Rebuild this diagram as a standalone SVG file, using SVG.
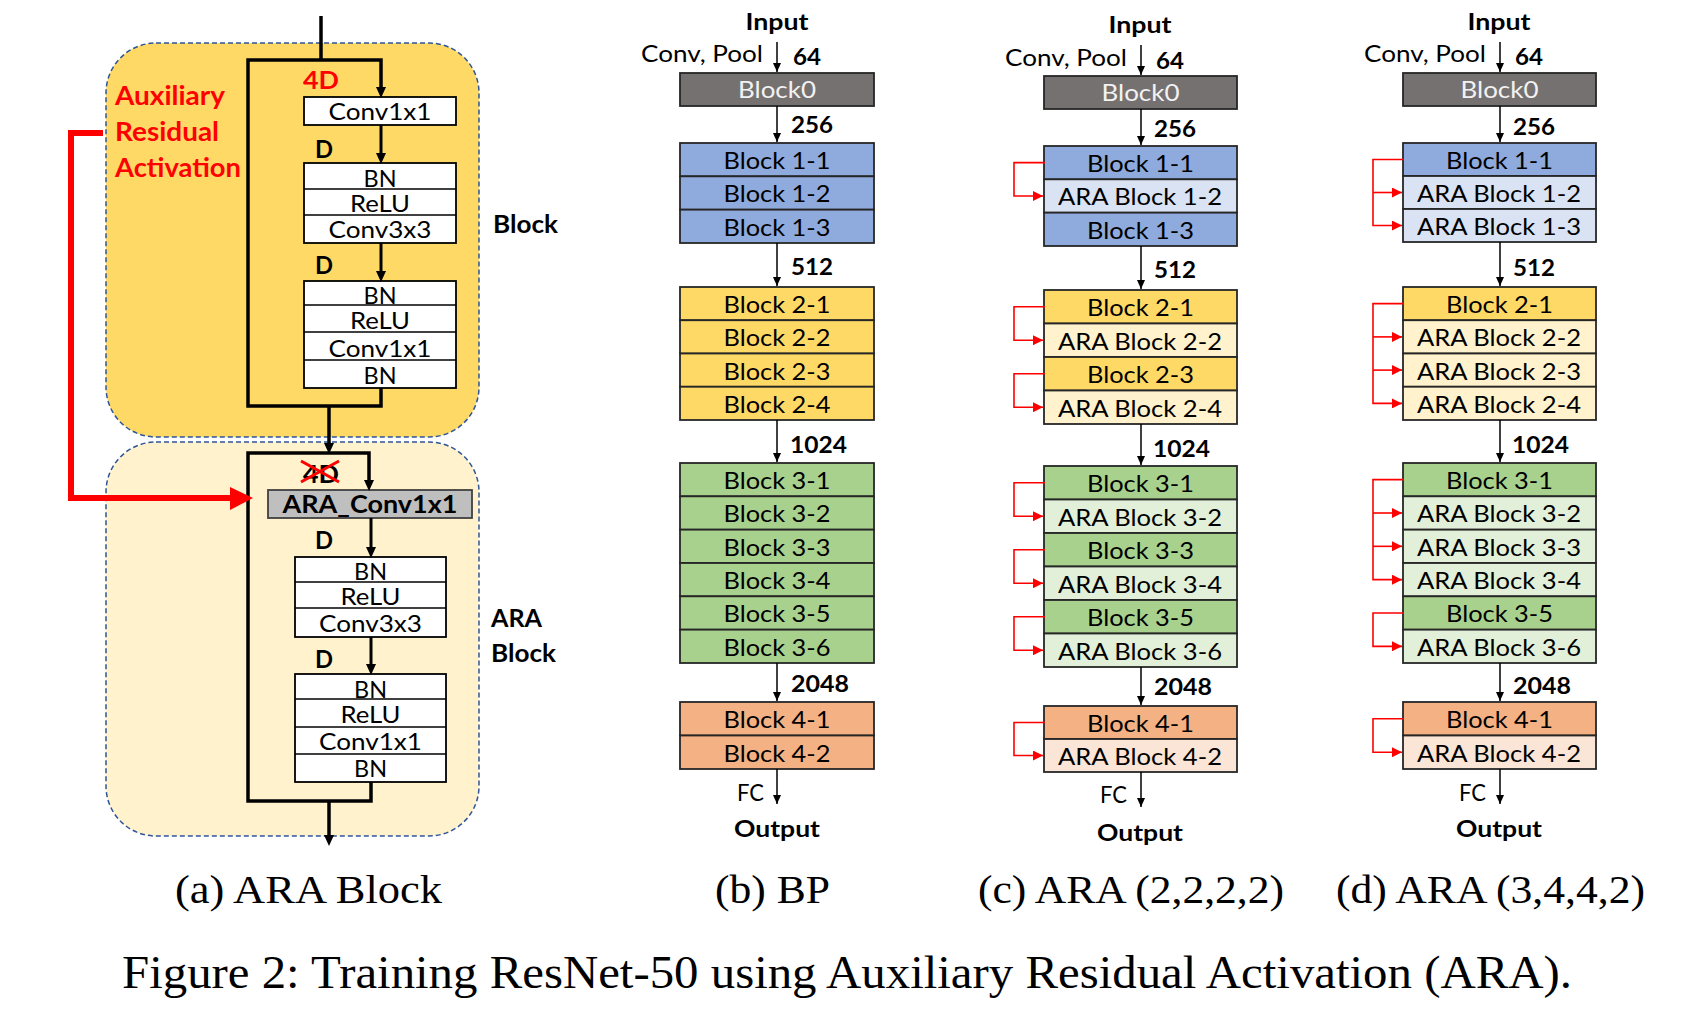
<svg xmlns="http://www.w3.org/2000/svg" width="1690" height="1014" viewBox="0 0 1690 1014">
<style>
.t{font-family:Lato,"Liberation Sans",sans-serif;fill:#000}
.b{font-weight:bold}
.m{text-anchor:middle}
.e{text-anchor:end}
.cap{font-family:"Liberation Serif","Times New Roman",serif;fill:#000}
.box{fill:#fff;stroke:#000;stroke-width:1.8}
.row{stroke:#262626;stroke-width:1.8}
.b0{fill:#767171}
.c1{fill:#8FAADC}.c1l{fill:#DAE3F3}
.c2{fill:#FFD966}.c2l{fill:#FFF2CC}
.c3{fill:#A9D18E}.c3l{fill:#E2F0D9}
.c4{fill:#F4B183}.c4l{fill:#FBE5D6}
.thick{fill:none;stroke:#000;stroke-width:3.5}
.arr{fill:none;stroke:#000;stroke-width:3}
.thin{fill:none;stroke:#000;stroke-width:1.5}
.red{fill:none;stroke:#FF0000;stroke-width:1.6}
.rl{font-size:24px}
.pl{font-size:24px}
.num{font-size:23px;font-weight:bold}
.io{font-size:23px;font-weight:bold}
.sm{font-size:23px}
</style>
<defs>
<marker id="ah" markerUnits="userSpaceOnUse" markerWidth="9" markerHeight="8" refX="9" refY="4" orient="auto"><path d="M0,0 L9,4 L0,8 z" fill="#000"/></marker>
<marker id="ahk" markerUnits="userSpaceOnUse" markerWidth="11" markerHeight="10" refX="4" refY="5" orient="auto"><path d="M0,0 L11,5 L0,10 z" fill="#000"/></marker>
<marker id="ahr" markerUnits="userSpaceOnUse" markerWidth="10" markerHeight="10" refX="10" refY="5" orient="auto"><path d="M0,0 L10,5 L0,10 z" fill="#FF0000"/></marker>
</defs>
<rect width="1690" height="1014" fill="#fff"/>

<!-- Panel (a) -->
<g id="blockBg"><rect x="106" y="43" width="373" height="394" rx="50" fill="#FFD966" stroke="#2F5597" stroke-width="1.5" stroke-dasharray="5,3"/></g>
<g id="araBg"><rect x="106" y="442" width="373" height="394" rx="50" fill="#FFF2CC" stroke="#2F5597" stroke-width="1.5" stroke-dasharray="5,3"/></g>

<g id="a-conv1">
<rect class="box" x="304" y="97" width="152" height="28"/>
<text class="t pl m" x="380" y="120" textLength="103" lengthAdjust="spacingAndGlyphs">Conv1x1</text>
</g>
<g id="a-bnrelu1">
<rect class="box" x="304" y="163" width="152" height="80"/>
<line x1="304" y1="189" x2="456" y2="189" stroke="#000" stroke-width="1.5"/>
<line x1="304" y1="215" x2="456" y2="215" stroke="#000" stroke-width="1.5"/>
<text class="t pl m" x="380" y="187" textLength="33" lengthAdjust="spacingAndGlyphs">BN</text>
<text class="t pl m" x="380" y="212" textLength="60" lengthAdjust="spacingAndGlyphs">ReLU</text>
<text class="t pl m" x="380" y="238" textLength="103" lengthAdjust="spacingAndGlyphs">Conv3x3</text>
</g>
<g id="a-bnrelu2">
<rect class="box" x="304" y="281" width="152" height="107"/>
<line x1="304" y1="305" x2="456" y2="305" stroke="#000" stroke-width="1.5"/>
<line x1="304" y1="332" x2="456" y2="332" stroke="#000" stroke-width="1.5"/>
<line x1="304" y1="360" x2="456" y2="360" stroke="#000" stroke-width="1.5"/>
<text class="t pl m" x="380" y="304" textLength="33" lengthAdjust="spacingAndGlyphs">BN</text>
<text class="t pl m" x="380" y="329" textLength="60" lengthAdjust="spacingAndGlyphs">ReLU</text>
<text class="t pl m" x="380" y="357" textLength="103" lengthAdjust="spacingAndGlyphs">Conv1x1</text>
<text class="t pl m" x="380" y="384" textLength="33" lengthAdjust="spacingAndGlyphs">BN</text>
</g>

<g id="a-araconv">
<rect x="268" y="490" width="204" height="28" fill="#BFBFBF" stroke="#404040" stroke-width="1.8"/>
<text class="t b m" x="370" y="513" font-size="24" textLength="175" lengthAdjust="spacingAndGlyphs">ARA_Conv1x1</text>
</g>
<g id="a-bnrelu3">
<rect class="box" x="295" y="557" width="151" height="80"/>
<line x1="295" y1="582" x2="446" y2="582" stroke="#000" stroke-width="1.5"/>
<line x1="295" y1="608" x2="446" y2="608" stroke="#000" stroke-width="1.5"/>
<text class="t pl m" x="370.5" y="580" textLength="33" lengthAdjust="spacingAndGlyphs">BN</text>
<text class="t pl m" x="370.5" y="605" textLength="60" lengthAdjust="spacingAndGlyphs">ReLU</text>
<text class="t pl m" x="370.5" y="632" textLength="103" lengthAdjust="spacingAndGlyphs">Conv3x3</text>
</g>
<g id="a-bnrelu4">
<rect class="box" x="295" y="674" width="151" height="108"/>
<line x1="295" y1="699" x2="446" y2="699" stroke="#000" stroke-width="1.5"/>
<line x1="295" y1="727" x2="446" y2="727" stroke="#000" stroke-width="1.5"/>
<line x1="295" y1="754" x2="446" y2="754" stroke="#000" stroke-width="1.5"/>
<text class="t pl m" x="370.5" y="698" textLength="33" lengthAdjust="spacingAndGlyphs">BN</text>
<text class="t pl m" x="370.5" y="723" textLength="60" lengthAdjust="spacingAndGlyphs">ReLU</text>
<text class="t pl m" x="370.5" y="750" textLength="103" lengthAdjust="spacingAndGlyphs">Conv1x1</text>
<text class="t pl m" x="370.5" y="777" textLength="33" lengthAdjust="spacingAndGlyphs">BN</text>
</g>

<g id="a-labels">
<text class="t b" x="303" y="89" font-size="25" style="fill:#FF0000" textLength="36" lengthAdjust="spacingAndGlyphs">4D</text>
<text class="t b" x="315" y="158" font-size="25" textLength="18" lengthAdjust="spacingAndGlyphs">D</text>
<text class="t b" x="315" y="274" font-size="25" textLength="18" lengthAdjust="spacingAndGlyphs">D</text>
<text class="t b" x="303" y="483" font-size="25" textLength="36" lengthAdjust="spacingAndGlyphs">4D</text>
<line x1="301" y1="461" x2="339" y2="482" stroke="#FF0000" stroke-width="3"/>
<line x1="301" y1="482" x2="339" y2="461" stroke="#FF0000" stroke-width="3"/>
<text class="t b" x="315" y="549" font-size="25" textLength="18" lengthAdjust="spacingAndGlyphs">D</text>
<text class="t b" x="315" y="668" font-size="25" textLength="18" lengthAdjust="spacingAndGlyphs">D</text>
<text class="t b" x="115" y="105" font-size="26" style="fill:#FF0000" textLength="110" lengthAdjust="spacingAndGlyphs">Auxiliary</text>
<text class="t b" x="115" y="141" font-size="26" style="fill:#FF0000" textLength="104" lengthAdjust="spacingAndGlyphs">Residual</text>
<text class="t b" x="115" y="177" font-size="26" style="fill:#FF0000" textLength="126" lengthAdjust="spacingAndGlyphs">Activation</text>
<text class="t b" x="493" y="233" font-size="25" textLength="65" lengthAdjust="spacingAndGlyphs">Block</text>
<text class="t b" x="491" y="627" font-size="25" textLength="51" lengthAdjust="spacingAndGlyphs">ARA</text>
<text class="t b" x="491" y="662" font-size="25" textLength="65" lengthAdjust="spacingAndGlyphs">Block</text>
</g>

<!-- Panel (b) nodes -->
<g id="b-block0"><rect class="row b0" x="680" y="73" width="194" height="33"/><text class="t rl m" x="777" y="98" style="fill:#F2F2F2" textLength="78" lengthAdjust="spacingAndGlyphs">Block0</text></g>
<g id="b-1-1"><rect class="row c1" x="680" y="143" width="194" height="33.33"/><text class="t rl m" x="777" y="169" textLength="107" lengthAdjust="spacingAndGlyphs">Block 1-1</text></g>
<g id="b-1-2"><rect class="row c1" x="680" y="176.33" width="194" height="33.33"/><text class="t rl m" x="777" y="202.3" textLength="107" lengthAdjust="spacingAndGlyphs">Block 1-2</text></g>
<g id="b-1-3"><rect class="row c1" x="680" y="209.67" width="194" height="33.33"/><text class="t rl m" x="777" y="235.7" textLength="107" lengthAdjust="spacingAndGlyphs">Block 1-3</text></g>
<g id="b-2-1"><rect class="row c2" x="680" y="287" width="194" height="33.25"/><text class="t rl m" x="777" y="313" textLength="107" lengthAdjust="spacingAndGlyphs">Block 2-1</text></g>
<g id="b-2-2"><rect class="row c2" x="680" y="320.25" width="194" height="33.25"/><text class="t rl m" x="777" y="346.3" textLength="107" lengthAdjust="spacingAndGlyphs">Block 2-2</text></g>
<g id="b-2-3"><rect class="row c2" x="680" y="353.5" width="194" height="33.25"/><text class="t rl m" x="777" y="379.5" textLength="107" lengthAdjust="spacingAndGlyphs">Block 2-3</text></g>
<g id="b-2-4"><rect class="row c2" x="680" y="386.75" width="194" height="33.25"/><text class="t rl m" x="777" y="412.8" textLength="107" lengthAdjust="spacingAndGlyphs">Block 2-4</text></g>
<g id="b-3-1"><rect class="row c3" x="680" y="463" width="194" height="33.33"/><text class="t rl m" x="777" y="489" textLength="107" lengthAdjust="spacingAndGlyphs">Block 3-1</text></g>
<g id="b-3-2"><rect class="row c3" x="680" y="496.33" width="194" height="33.33"/><text class="t rl m" x="777" y="522.3" textLength="107" lengthAdjust="spacingAndGlyphs">Block 3-2</text></g>
<g id="b-3-3"><rect class="row c3" x="680" y="529.67" width="194" height="33.33"/><text class="t rl m" x="777" y="555.7" textLength="107" lengthAdjust="spacingAndGlyphs">Block 3-3</text></g>
<g id="b-3-4"><rect class="row c3" x="680" y="563" width="194" height="33.33"/><text class="t rl m" x="777" y="589" textLength="107" lengthAdjust="spacingAndGlyphs">Block 3-4</text></g>
<g id="b-3-5"><rect class="row c3" x="680" y="596.33" width="194" height="33.33"/><text class="t rl m" x="777" y="622.3" textLength="107" lengthAdjust="spacingAndGlyphs">Block 3-5</text></g>
<g id="b-3-6"><rect class="row c3" x="680" y="629.67" width="194" height="33.33"/><text class="t rl m" x="777" y="655.7" textLength="107" lengthAdjust="spacingAndGlyphs">Block 3-6</text></g>
<g id="b-4-1"><rect class="row c4" x="680" y="702" width="194" height="33.5"/><text class="t rl m" x="777" y="728" textLength="107" lengthAdjust="spacingAndGlyphs">Block 4-1</text></g>
<g id="b-4-2"><rect class="row c4" x="680" y="735.5" width="194" height="33.5"/><text class="t rl m" x="777" y="761.5" textLength="107" lengthAdjust="spacingAndGlyphs">Block 4-2</text></g>
<g id="b-labels">
<text class="t io m" x="777" y="30" textLength="63" lengthAdjust="spacingAndGlyphs">Input</text>
<text class="t sm e" x="763" y="62" textLength="122" lengthAdjust="spacingAndGlyphs">Conv, Pool</text>
<text class="t num" x="793" y="65" textLength="28" lengthAdjust="spacingAndGlyphs">64</text>
<text class="t num" x="791" y="133" textLength="42" lengthAdjust="spacingAndGlyphs">256</text>
<text class="t num" x="791" y="275" textLength="42" lengthAdjust="spacingAndGlyphs">512</text>
<text class="t num" x="790" y="453" textLength="57" lengthAdjust="spacingAndGlyphs">1024</text>
<text class="t num" x="791" y="692" textLength="58" lengthAdjust="spacingAndGlyphs">2048</text>
<text class="t sm e" x="764" y="801" textLength="27" lengthAdjust="spacingAndGlyphs">FC</text>
<text class="t io m" x="777" y="837" textLength="86" lengthAdjust="spacingAndGlyphs">Output</text>
</g>

<!-- Panel (c) nodes -->
<g id="c-block0"><rect class="row b0" x="1044" y="76" width="193" height="33"/><text class="t rl m" x="1140.5" y="101" style="fill:#F2F2F2" textLength="78" lengthAdjust="spacingAndGlyphs">Block0</text></g>
<g id="c-1-1"><rect class="row c1" x="1044" y="146" width="193" height="33.33"/><text class="t rl m" x="1140.5" y="172" textLength="107" lengthAdjust="spacingAndGlyphs">Block 1-1</text></g>
<g id="c-1-2"><rect class="row c1l" x="1044" y="179.33" width="193" height="33.33"/><text class="t rl m" x="1140" y="205.3" textLength="164" lengthAdjust="spacingAndGlyphs">ARA Block 1-2</text></g>
<g id="c-1-3"><rect class="row c1" x="1044" y="212.67" width="193" height="33.33"/><text class="t rl m" x="1140.5" y="238.7" textLength="107" lengthAdjust="spacingAndGlyphs">Block 1-3</text></g>
<g id="c-2-1"><rect class="row c2" x="1044" y="290" width="193" height="33.5"/><text class="t rl m" x="1140.5" y="316" textLength="107" lengthAdjust="spacingAndGlyphs">Block 2-1</text></g>
<g id="c-2-2"><rect class="row c2l" x="1044" y="323.5" width="193" height="33.5"/><text class="t rl m" x="1140" y="349.5" textLength="164" lengthAdjust="spacingAndGlyphs">ARA Block 2-2</text></g>
<g id="c-2-3"><rect class="row c2" x="1044" y="357" width="193" height="33.5"/><text class="t rl m" x="1140.5" y="383" textLength="107" lengthAdjust="spacingAndGlyphs">Block 2-3</text></g>
<g id="c-2-4"><rect class="row c2l" x="1044" y="390.5" width="193" height="33.5"/><text class="t rl m" x="1140" y="416.5" textLength="164" lengthAdjust="spacingAndGlyphs">ARA Block 2-4</text></g>
<g id="c-3-1"><rect class="row c3" x="1044" y="466" width="193" height="33.5"/><text class="t rl m" x="1140.5" y="492" textLength="107" lengthAdjust="spacingAndGlyphs">Block 3-1</text></g>
<g id="c-3-2"><rect class="row c3l" x="1044" y="499.5" width="193" height="33.5"/><text class="t rl m" x="1140" y="525.5" textLength="164" lengthAdjust="spacingAndGlyphs">ARA Block 3-2</text></g>
<g id="c-3-3"><rect class="row c3" x="1044" y="533" width="193" height="33.5"/><text class="t rl m" x="1140.5" y="559" textLength="107" lengthAdjust="spacingAndGlyphs">Block 3-3</text></g>
<g id="c-3-4"><rect class="row c3l" x="1044" y="566.5" width="193" height="33.5"/><text class="t rl m" x="1140" y="592.5" textLength="164" lengthAdjust="spacingAndGlyphs">ARA Block 3-4</text></g>
<g id="c-3-5"><rect class="row c3" x="1044" y="600" width="193" height="33.5"/><text class="t rl m" x="1140.5" y="626" textLength="107" lengthAdjust="spacingAndGlyphs">Block 3-5</text></g>
<g id="c-3-6"><rect class="row c3l" x="1044" y="633.5" width="193" height="33.5"/><text class="t rl m" x="1140" y="659.5" textLength="164" lengthAdjust="spacingAndGlyphs">ARA Block 3-6</text></g>
<g id="c-4-1"><rect class="row c4" x="1044" y="706" width="193" height="33"/><text class="t rl m" x="1140.5" y="732" textLength="107" lengthAdjust="spacingAndGlyphs">Block 4-1</text></g>
<g id="c-4-2"><rect class="row c4l" x="1044" y="739" width="193" height="33"/><text class="t rl m" x="1140" y="765" textLength="164" lengthAdjust="spacingAndGlyphs">ARA Block 4-2</text></g>
<g id="c-labels">
<text class="t io m" x="1140" y="33" textLength="63" lengthAdjust="spacingAndGlyphs">Input</text>
<text class="t sm e" x="1127" y="66" textLength="122" lengthAdjust="spacingAndGlyphs">Conv, Pool</text>
<text class="t num" x="1156" y="69" textLength="28" lengthAdjust="spacingAndGlyphs">64</text>
<text class="t num" x="1154" y="137" textLength="42" lengthAdjust="spacingAndGlyphs">256</text>
<text class="t num" x="1154" y="278" textLength="42" lengthAdjust="spacingAndGlyphs">512</text>
<text class="t num" x="1153" y="457" textLength="57" lengthAdjust="spacingAndGlyphs">1024</text>
<text class="t num" x="1154" y="695" textLength="58" lengthAdjust="spacingAndGlyphs">2048</text>
<text class="t sm e" x="1127" y="803" textLength="27" lengthAdjust="spacingAndGlyphs">FC</text>
<text class="t io m" x="1140" y="841" textLength="86" lengthAdjust="spacingAndGlyphs">Output</text>
</g>

<!-- Panel (d) nodes -->
<g id="d-block0"><rect class="row b0" x="1403" y="73" width="193" height="33"/><text class="t rl m" x="1499.5" y="98" style="fill:#F2F2F2" textLength="78" lengthAdjust="spacingAndGlyphs">Block0</text></g>
<g id="d-1-1"><rect class="row c1" x="1403" y="143" width="193" height="33"/><text class="t rl m" x="1499.5" y="169" textLength="107" lengthAdjust="spacingAndGlyphs">Block 1-1</text></g>
<g id="d-1-2"><rect class="row c1l" x="1403" y="176" width="193" height="33"/><text class="t rl m" x="1499" y="202" textLength="164" lengthAdjust="spacingAndGlyphs">ARA Block 1-2</text></g>
<g id="d-1-3"><rect class="row c1l" x="1403" y="209" width="193" height="33"/><text class="t rl m" x="1499" y="235" textLength="164" lengthAdjust="spacingAndGlyphs">ARA Block 1-3</text></g>
<g id="d-2-1"><rect class="row c2" x="1403" y="287" width="193" height="33.25"/><text class="t rl m" x="1499.5" y="313" textLength="107" lengthAdjust="spacingAndGlyphs">Block 2-1</text></g>
<g id="d-2-2"><rect class="row c2l" x="1403" y="320.25" width="193" height="33.25"/><text class="t rl m" x="1499" y="346.3" textLength="164" lengthAdjust="spacingAndGlyphs">ARA Block 2-2</text></g>
<g id="d-2-3"><rect class="row c2l" x="1403" y="353.5" width="193" height="33.25"/><text class="t rl m" x="1499" y="379.5" textLength="164" lengthAdjust="spacingAndGlyphs">ARA Block 2-3</text></g>
<g id="d-2-4"><rect class="row c2l" x="1403" y="386.75" width="193" height="33.25"/><text class="t rl m" x="1499" y="412.8" textLength="164" lengthAdjust="spacingAndGlyphs">ARA Block 2-4</text></g>
<g id="d-3-1"><rect class="row c3" x="1403" y="463" width="193" height="33.33"/><text class="t rl m" x="1499.5" y="489" textLength="107" lengthAdjust="spacingAndGlyphs">Block 3-1</text></g>
<g id="d-3-2"><rect class="row c3l" x="1403" y="496.33" width="193" height="33.33"/><text class="t rl m" x="1499" y="522.3" textLength="164" lengthAdjust="spacingAndGlyphs">ARA Block 3-2</text></g>
<g id="d-3-3"><rect class="row c3l" x="1403" y="529.67" width="193" height="33.33"/><text class="t rl m" x="1499" y="555.7" textLength="164" lengthAdjust="spacingAndGlyphs">ARA Block 3-3</text></g>
<g id="d-3-4"><rect class="row c3l" x="1403" y="563" width="193" height="33.33"/><text class="t rl m" x="1499" y="589" textLength="164" lengthAdjust="spacingAndGlyphs">ARA Block 3-4</text></g>
<g id="d-3-5"><rect class="row c3" x="1403" y="596.33" width="193" height="33.33"/><text class="t rl m" x="1499.5" y="622.3" textLength="107" lengthAdjust="spacingAndGlyphs">Block 3-5</text></g>
<g id="d-3-6"><rect class="row c3l" x="1403" y="629.67" width="193" height="33.33"/><text class="t rl m" x="1499" y="655.7" textLength="164" lengthAdjust="spacingAndGlyphs">ARA Block 3-6</text></g>
<g id="d-4-1"><rect class="row c4" x="1403" y="702" width="193" height="33.5"/><text class="t rl m" x="1499.5" y="728" textLength="107" lengthAdjust="spacingAndGlyphs">Block 4-1</text></g>
<g id="d-4-2"><rect class="row c4l" x="1403" y="735.5" width="193" height="33.5"/><text class="t rl m" x="1499" y="761.5" textLength="164" lengthAdjust="spacingAndGlyphs">ARA Block 4-2</text></g>
<g id="d-labels">
<text class="t io m" x="1499" y="30" textLength="63" lengthAdjust="spacingAndGlyphs">Input</text>
<text class="t sm e" x="1486" y="62" textLength="122" lengthAdjust="spacingAndGlyphs">Conv, Pool</text>
<text class="t num" x="1515" y="65" textLength="28" lengthAdjust="spacingAndGlyphs">64</text>
<text class="t num" x="1513" y="135" textLength="42" lengthAdjust="spacingAndGlyphs">256</text>
<text class="t num" x="1513" y="276" textLength="42" lengthAdjust="spacingAndGlyphs">512</text>
<text class="t num" x="1512" y="453" textLength="57" lengthAdjust="spacingAndGlyphs">1024</text>
<text class="t num" x="1513" y="694" textLength="58" lengthAdjust="spacingAndGlyphs">2048</text>
<text class="t sm e" x="1486" y="801" textLength="27" lengthAdjust="spacingAndGlyphs">FC</text>
<text class="t io m" x="1499" y="837" textLength="86" lengthAdjust="spacingAndGlyphs">Output</text>
</g>

<!-- Connectors -->
<g id="connectors">
<path class="thick" d="M321,16 V60"/>
<path class="thick" d="M381,388 V406 H248 V60 H381 V91" marker-end="url(#ahk)"/>
<path class="arr" d="M381,125 V157" marker-end="url(#ahk)"/>
<path class="arr" d="M381,243 V275" marker-end="url(#ahk)"/>
<path class="thick" d="M329,406 V447" marker-end="url(#ahk)"/>
<path class="thick" d="M371,782 V801 H248 V453 H369 V484" marker-end="url(#ahk)"/>
<path class="arr" d="M371,518 V551" marker-end="url(#ahk)"/>
<path class="arr" d="M371,637 V668" marker-end="url(#ahk)"/>
<path class="thick" d="M329,801 V839" marker-end="url(#ahk)"/>
<path d="M103,133 H71 V498 H233" fill="none" stroke="#FF0000" stroke-width="6"/>
<polygon points="230,487 253,498 230,510" fill="#FF0000"/>
<path class="thin" d="M777,42 V72" marker-end="url(#ah)"/>
<path class="thin" d="M777,106 V142" marker-end="url(#ah)"/>
<path class="thin" d="M777,243 V286" marker-end="url(#ah)"/>
<path class="thin" d="M777,420 V462" marker-end="url(#ah)"/>
<path class="thin" d="M777,663 V701" marker-end="url(#ah)"/>
<path class="thin" d="M777,769 V804" marker-end="url(#ah)"/>
<path class="thin" d="M1141,45 V75" marker-end="url(#ah)"/>
<path class="thin" d="M1141,109 V145" marker-end="url(#ah)"/>
<path class="thin" d="M1141,246 V289" marker-end="url(#ah)"/>
<path class="thin" d="M1141,424 V465" marker-end="url(#ah)"/>
<path class="thin" d="M1141,667 V705" marker-end="url(#ah)"/>
<path class="thin" d="M1141,772 V807" marker-end="url(#ah)"/>
<path class="red" d="M1045,162.67 H1014 V196 H1043" marker-end="url(#ahr)"/>
<path class="red" d="M1045,306.75 H1014 V340.25 H1043" marker-end="url(#ahr)"/>
<path class="red" d="M1045,373.75 H1014 V407.25 H1043" marker-end="url(#ahr)"/>
<path class="red" d="M1045,482.75 H1014 V516.25 H1043" marker-end="url(#ahr)"/>
<path class="red" d="M1045,549.75 H1014 V583.25 H1043" marker-end="url(#ahr)"/>
<path class="red" d="M1045,616.75 H1014 V650.25 H1043" marker-end="url(#ahr)"/>
<path class="red" d="M1045,722.5 H1014 V755.5 H1043" marker-end="url(#ahr)"/>
<path class="thin" d="M1500,42 V72" marker-end="url(#ah)"/>
<path class="thin" d="M1500,106 V142" marker-end="url(#ah)"/>
<path class="thin" d="M1500,242 V286" marker-end="url(#ah)"/>
<path class="thin" d="M1500,420 V462" marker-end="url(#ah)"/>
<path class="thin" d="M1500,663 V701" marker-end="url(#ah)"/>
<path class="thin" d="M1500,769 V804" marker-end="url(#ah)"/>
<path class="red" d="M1404,159.5 H1373 V225.5 H1402" marker-end="url(#ahr)"/>
<path class="red" d="M1373,192.5 H1402" marker-end="url(#ahr)"/>
<path class="red" d="M1404,303.6 H1373 V403.4 H1402" marker-end="url(#ahr)"/>
<path class="red" d="M1373,336.9 H1402" marker-end="url(#ahr)"/>
<path class="red" d="M1373,370.1 H1402" marker-end="url(#ahr)"/>
<path class="red" d="M1404,479.67 H1373 V579.67 H1402" marker-end="url(#ahr)"/>
<path class="red" d="M1373,513 H1402" marker-end="url(#ahr)"/>
<path class="red" d="M1373,546.33 H1402" marker-end="url(#ahr)"/>
<path class="red" d="M1404,613 H1373 V646.33 H1402" marker-end="url(#ahr)"/>
<path class="red" d="M1404,718.75 H1373 V752.25 H1402" marker-end="url(#ahr)"/>
</g>

<!-- Captions -->
<g id="captions">
<text class="cap" x="175" y="903" font-size="40" textLength="267" lengthAdjust="spacingAndGlyphs">(a) ARA Block</text>
<text class="cap" x="715" y="903" font-size="40" textLength="115" lengthAdjust="spacingAndGlyphs">(b) BP</text>
<text class="cap" x="978" y="903" font-size="40" textLength="306" lengthAdjust="spacingAndGlyphs">(c) ARA (2,2,2,2)</text>
<text class="cap" x="1336" y="903" font-size="40" textLength="309" lengthAdjust="spacingAndGlyphs">(d) ARA (3,4,4,2)</text>
<text class="cap" x="122" y="988" font-size="46" textLength="1450" lengthAdjust="spacingAndGlyphs">Figure 2: Training ResNet-50 using Auxiliary Residual Activation (ARA).</text>
</g>
</svg>
